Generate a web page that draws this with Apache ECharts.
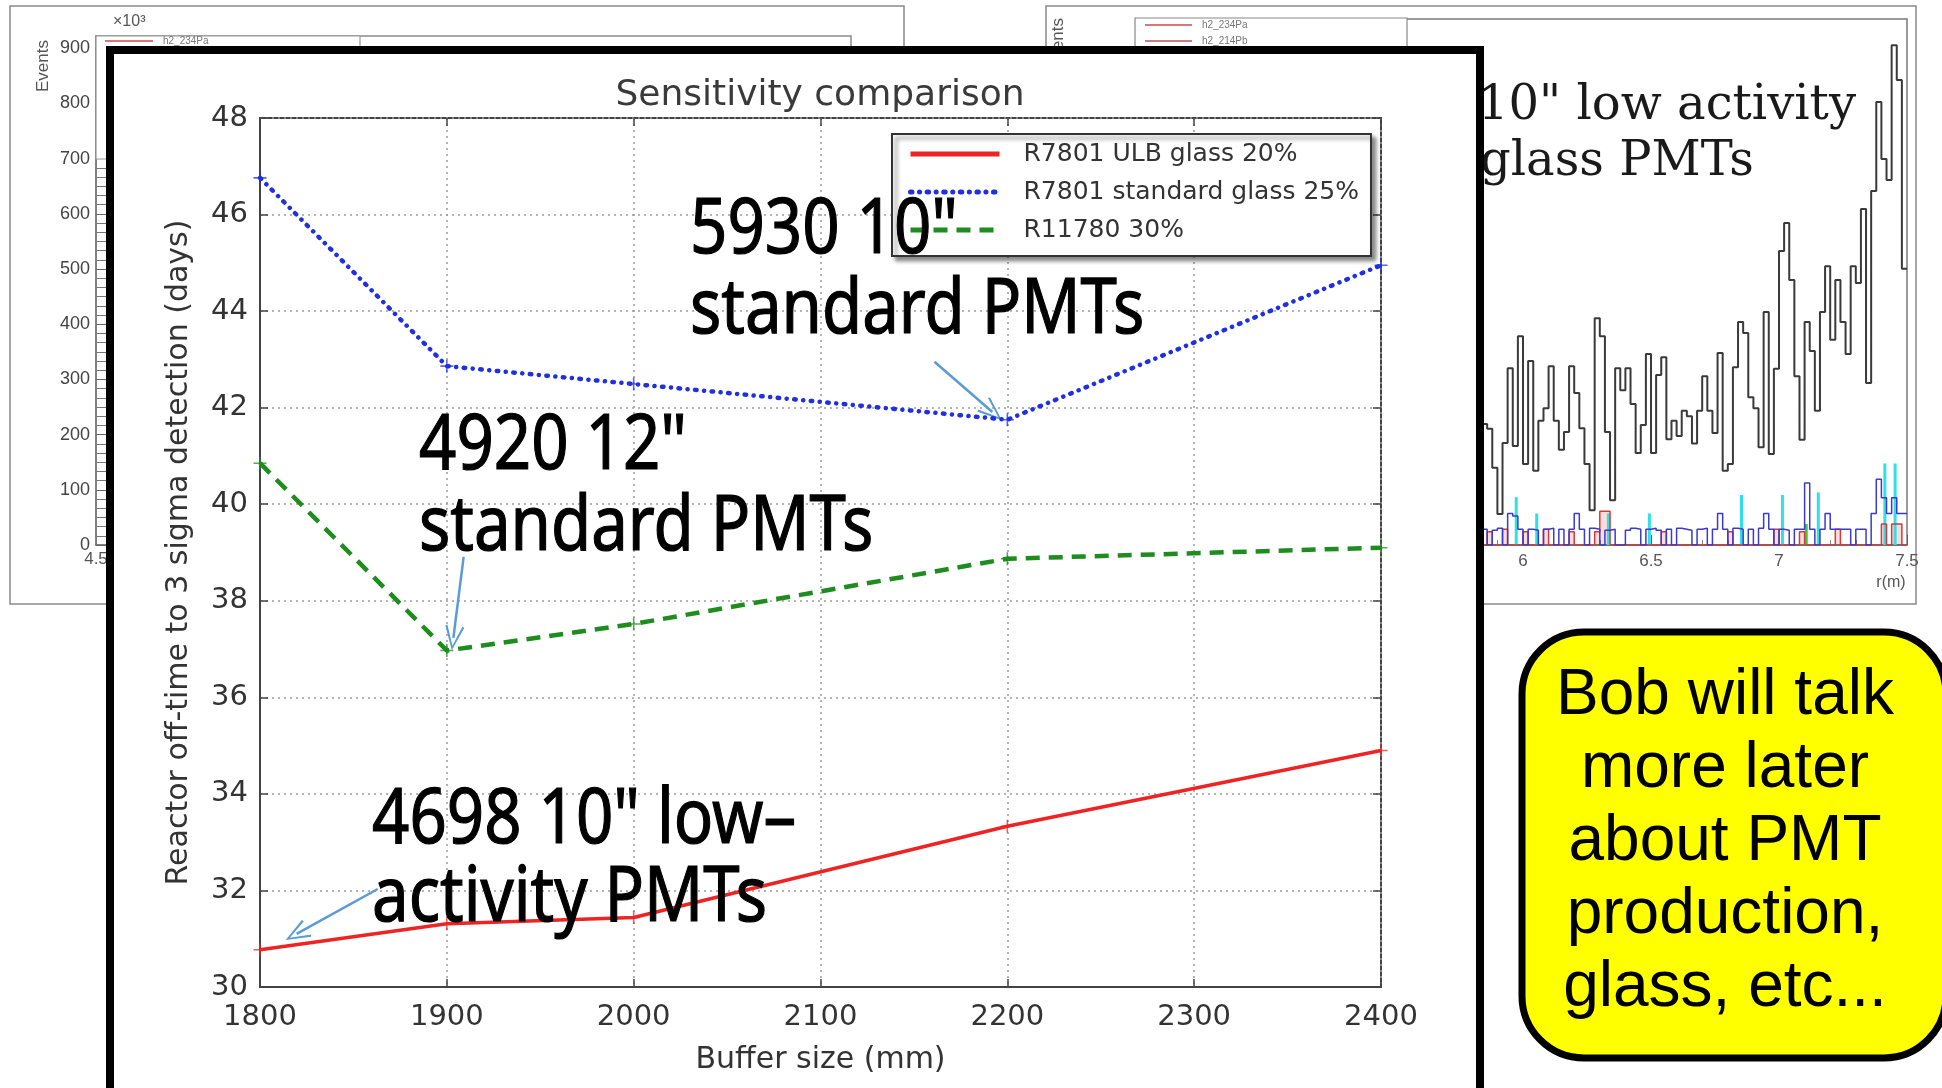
<!DOCTYPE html>
<html>
<head>
<meta charset="utf-8">
<script src="https://cdn.jsdelivr.net/npm/echarts@6/dist/echarts.min.js"></script>
<style>
  html, body { margin: 0; padding: 0; background: #fff; overflow: hidden; }
  #chart { width: 1942px; height: 1088px; }
</style>
</head>
<body>
<div id="chart"></div>
<script>
// ---- Sensitivity comparison: buffer size scan ----
const bufferSizes = [1800, 1900, 2000, 2200, 2400];            // mm
const ulbGlass20 = [30.77, 31.31, 31.44, 33.33, 34.90];       // days
const standardGlass25 = [46.76, 42.86, 42.49, 41.75, 44.95];  // days
const r11780Glass30 = [40.85, 36.97, 37.52, 38.87, 39.10];    // days
const seriesNames = ['R7801 ULB glass 20%', 'R7801 standard glass 25%', 'R11780 30%'];
const seriesColors = ['#ee2424', '#2030e0', '#1e8c1e'];

// Callout arrows (buffer size, days): tail -> head
const arrowTails = [[2161, 42.95], [1909, 38.91], [1863, 32.03]];
const arrowHeads = [[2192, 41.91], [1903.5, 37.23], [1819.6, 31.10]];

// ---- Radial event histogram (background panel), r in metres ----
const radialBinStart = 5.84;
const radialBinWidth = 0.02;
const eventsAll = [
  230, 221, 147, 59, 194, 336, 188, 397, 154, 350,
  141, 236, 260, 340, 236, 181, 215, 340, 289, 222,
  154, 66, 431, 397, 215, 85, 336, 294, 336, 268,
  175, 228, 363, 175, 323, 357, 201, 236, 207, 255,
  245, 193, 255, 321, 255, 213, 365, 141, 154, 338,
  424, 403, 281, 260, 186, 443, 173, 335, 559, 612,
  504, 321, 200, 424, 369, 255, 443, 530, 390, 504,
  424, 363, 530, 498, 639, 308, 673, 842, 734, 694,
  950, 884, 525
];
const eventsBlue = [
  30, 0, 28, 32, 0, 60, 55, 30, 0, 30,
  28, 0, 30, 32, 0, 30, 0, 30, 60, 30,
  0, 32, 30, 0, 28, 30, 0, 0, 28, 32,
  30, 0, 30, 32, 28, 0, 30, 0, 32, 30,
  28, 0, 30, 32, 0, 30, 60, 30, 0, 32,
  30, 0, 30, 0, 32, 60, 30, 0, 30, 28,
  0, 30, 30, 118, 30, 0, 30, 60, 30, 30,
  30, 30, 0, 30, 30, 0, 60, 125, 90, 60,
  90, 60, 60
];
const eventsRed = [
  0, 25, 0, 0, 30, 0, 0, 0, 25, 0,
  0, 0, 30, 0, 0, 0, 0, 25, 0, 0,
  0, 0, 25, 64, 64, 0, 0, 0, 0, 0,
  0, 0, 0, 0, 0, 25, 0, 0, 0, 0,
  0, 0, 0, 0, 0, 0, 0, 0, 25, 0,
  0, 0, 0, 0, 0, 0, 0, 30, 0, 0,
  0, 0, 25, 0, 0, 0, 0, 0, 0, 30,
  0, 0, 0, 0, 0, 0, 0, 0, 40, 0,
  40, 40, 0
];
const cyanR = [5.98, 6.06, 6.34, 6.50, 6.86, 7.02, 7.16, 7.42, 7.46];
const cyanEvents = [91, 60, 60, 60, 95, 95, 100, 155, 155];
const greenR = [7.10];
const greenEvents = [40];

// ---- Panel fonts ----
const MPL_FONT = '"DejaVu Sans", "Liberation Sans", sans-serif';
const ROOT_FONT = '"Liberation Sans", Arial, sans-serif';
const NOTE_FONT = '"Noto Sans", "Open Sans", sans-serif';
const SERIF_FONT = '"DejaVu Serif", "Liberation Serif", serif';

// Histogram as a step line: one point per bin start plus the closing edge
function stepData(values) {
  const pts = values.map((v, i) => [+(radialBinStart + i * radialBinWidth).toFixed(2), v]);
  pts.push([+(radialBinStart + values.length * radialBinWidth).toFixed(2), values[values.length - 1]]);
  return pts;
}
function pairs(xs, ys) { return xs.map((x, i) => [x, ys[i]]); }

const chevron = 'path://M0,20 L8,0 L16,20 L14.4,21 L8,4 L1.6,21 Z';
const plusMark = 'path://M4.4,0 H5.6 V4.4 H10 V5.6 H5.6 V10 H4.4 V5.6 H0 V4.4 H4.4 Z';

const mainValues = [ulbGlass20, standardGlass25, r11780Glass30];
const lineStyles = [
  { color: seriesColors[0], width: 3.5, type: 'solid' },
  { color: seriesColors[1], width: 4.5, type: [1.5, 7.5, 0.1, 7.5], cap: 'round' },
  { color: seriesColors[2], width: 4.5, type: [14, 9] }
];

const chart = echarts.init(document.getElementById('chart'), null, { renderer: 'canvas' });

const mainSeries = mainValues.map((vals, k) => ({
  name: seriesNames[k],
  type: 'line',
  xAxisIndex: 0, yAxisIndex: 0,
  data: pairs(bufferSizes, vals),
  symbol: 'none',
  color: seriesColors[k],
  lineStyle: lineStyles[k],
  z: 5,
  silent: true
}));

const markerSeries = mainValues.map((vals, k) => ({
  name: 'points-' + k,
  type: 'scatter',
  xAxisIndex: 0, yAxisIndex: 0,
  data: pairs(bufferSizes, vals),
  symbol: plusMark,
  symbolSize: 13,
  itemStyle: { color: seriesColors[k], opacity: 0.75 },
  z: 5,
  silent: true
}));

const arrowSeries = {
  name: 'callouts',
  type: 'scatter',
  xAxisIndex: 0, yAxisIndex: 0,
  data: [],
  z: 6,
  silent: true,
  markLine: {
    silent: true,
    symbol: ['none', chevron],
    symbolSize: [19, 25],
    label: { show: false },
    lineStyle: { color: '#5b9bd5', width: 2.5, type: 'solid' },
    emphasis: { disabled: true },
    data: arrowTails.map((t, i) => [{ coord: t }, { coord: arrowHeads[i] }])
  }
};

const histSeries = [
  { name: 'h-red', type: 'line', step: 'end', data: stepData(eventsRed), color: '#d43a3a',
    lineStyle: { width: 1.5, color: '#d43a3a' }, areaStyle: { color: 'rgba(220,60,60,0.25)' } },
  { name: 'h-blue', type: 'line', step: 'end', data: stepData(eventsBlue), color: '#3a3acc',
    lineStyle: { width: 1.5, color: '#3a3acc' } },
  { name: 'h-cyan', type: 'bar', data: pairs(cyanR, cyanEvents), barWidth: 3, color: '#30e0e8',
    itemStyle: { color: '#30e0e8' } },
  { name: 'h-green', type: 'bar', data: pairs(greenR, greenEvents), barWidth: 3, color: '#3ccc3c',
    itemStyle: { color: '#3ccc3c' } },
  { name: 'h-all', type: 'line', step: 'end', data: stepData(eventsAll), color: '#3a3a3a',
    lineStyle: { width: 2, color: '#3a3a3a' } }
].map(s => Object.assign({ xAxisIndex: 3, yAxisIndex: 3, symbol: 'none', z: 1, silent: true }, s));

const mainTextStyle = { fontFamily: MPL_FONT, color: '#333' };
const plainNumber = v => String(v);

function label(text, x, y, font, size, fill, align, extra) {
  return Object.assign({
    type: 'text', z: 2, x: x, y: y,
    style: { text: text, fontFamily: font, fontSize: size, fill: fill,
             align: align, verticalAlign: 'middle', textAlign: align, textVerticalAlign: 'middle' }
  }, extra || {});
}
function note(text, x, y) {
  return {
    type: 'text', z: 8, x: x, y: y, scaleX: 0.86,
    style: { text: text, fontFamily: NOTE_FONT, fontSize: 76, fill: '#000', stroke: '#000', lineWidth: 1.2,
             align: 'left', verticalAlign: 'middle', textAlign: 'left', textVerticalAlign: 'middle' }
  };
}

const option = {
  animation: false,
  backgroundColor: '#ffffff',
  title: {
    text: 'Sensitivity comparison',
    left: 820, top: 78, textAlign: 'center', padding: 0, z: 6,
    textStyle: { fontFamily: MPL_FONT, fontSize: 36, fontWeight: 'normal', color: '#3a3a3a' }
  },
  legend: {
    data: seriesNames,
    orient: 'vertical',
    left: 892, top: 134,
    itemWidth: 89, itemHeight: 14, itemGap: 12,
    padding: [7, 12, 13, 16],
    backgroundColor: '#ffffff',
    borderColor: '#333', borderWidth: 2, borderRadius: 0,
    shadowColor: 'rgba(0,0,0,0.45)', shadowBlur: 4, shadowOffsetX: 4, shadowOffsetY: 4,
    selectedMode: false,
    itemStyle: { color: 'rgba(0,0,0,0)', borderColor: 'rgba(0,0,0,0)', borderWidth: 0, opacity: 0 },
    lineStyle: { width: 5 },
    textStyle: { fontFamily: MPL_FONT, fontSize: 25, color: '#333', lineHeight: 26, padding: [0, 0, 0, 19] },
    z: 7
  },
  grid: [
    { left: 260, top: 118, width: 1121, height: 869, show: true, backgroundColor: 'transparent',
      borderColor: '#444', borderWidth: 2, z: 4, containLabel: false, outerBoundsMode: 'none' },
    { left: 96, top: 36, width: 755, height: 509, show: true, backgroundColor: 'transparent',
      borderColor: '#8a8a8a', borderWidth: 1.5, z: 1, containLabel: false, outerBoundsMode: 'none' },
    { left: 1139, top: 19, width: 768, height: 526, show: true, backgroundColor: 'transparent',
      borderColor: '#7a7a7a', borderWidth: 1.5, z: 1, containLabel: false, outerBoundsMode: 'none' }
  ],
  xAxis: [
    { gridIndex: 0, type: 'value', min: 1800, max: 2400, interval: 100, position: 'bottom', z: 4,
      axisLine: { show: true, onZero: false, lineStyle: { color: '#444', width: 2 } },
      axisTick: { show: true, inside: true, length: 8, lineStyle: { color: '#444', width: 1.5 } },
      axisLabel: Object.assign({ fontSize: 29, margin: 16, formatter: plainNumber }, mainTextStyle),
      splitLine: { show: true, lineStyle: { color: '#9c9c9c', width: 1.5, type: [2, 4] } },
      name: 'Buffer size (mm)', nameLocation: 'middle', nameGap: 58,
      nameTextStyle: Object.assign({ fontSize: 30 }, mainTextStyle) },
    { gridIndex: 0, type: 'value', min: 1800, max: 2400, interval: 100, position: 'top', z: 4,
      axisLine: { show: false },
      axisTick: { show: true, inside: true, length: 8, lineStyle: { color: '#444', width: 1.5 } },
      axisLabel: { show: false }, splitLine: { show: false } },
    { gridIndex: 1, type: 'value', min: 4.5, max: 7.5, interval: 0.5, position: 'bottom', z: 1,
      axisLine: { show: true, onZero: false, lineStyle: { color: '#777', width: 1.5 } },
      axisTick: { show: true, inside: true, length: 10, lineStyle: { color: '#777' } },
      axisLabel: { fontFamily: ROOT_FONT, fontSize: 17, color: '#555', margin: 6 },
      splitLine: { show: false } },
    { gridIndex: 2, type: 'value', min: 4.5, max: 7.5, interval: 0.5, position: 'bottom', z: 1,
      axisLine: { show: true, onZero: false, lineStyle: { color: '#666', width: 1.5 } },
      axisTick: { show: true, inside: true, length: 10, lineStyle: { color: '#666' } },
      minorTick: { show: true, splitNumber: 5, length: 5, lineStyle: { color: '#888' } },
      axisLabel: { fontFamily: ROOT_FONT, fontSize: 17, color: '#555', margin: 8 },
      splitLine: { show: false } }
  ],
  yAxis: [
    { gridIndex: 0, type: 'value', min: 30, max: 48, interval: 2, position: 'left', z: 4,
      axisLine: { show: true, onZero: false, lineStyle: { color: '#444', width: 2 } },
      axisTick: { show: true, inside: true, length: 8, lineStyle: { color: '#444', width: 1.5 } },
      axisLabel: Object.assign({ fontSize: 29, margin: 12 }, mainTextStyle),
      splitLine: { show: true, lineStyle: { color: '#9c9c9c', width: 1.5, type: [2, 4] } },
      name: 'Reactor off-time to 3 sigma detection (days)', nameLocation: 'middle', nameGap: 66,
      nameTextStyle: Object.assign({ fontSize: 30 }, mainTextStyle) },
    { gridIndex: 0, type: 'value', min: 30, max: 48, interval: 2, position: 'right', z: 4,
      axisLine: { show: false },
      axisTick: { show: true, inside: true, length: 8, lineStyle: { color: '#444', width: 1.5 } },
      axisLabel: { show: false }, splitLine: { show: false } },
    { gridIndex: 1, type: 'value', min: 0, max: 922, interval: 100, position: 'left', z: 1,
      axisLine: { show: true, onZero: false, lineStyle: { color: '#777', width: 1.5 } },
      axisTick: { show: true, inside: true, length: 14, lineStyle: { color: '#666' } },
      minorTick: { show: true, splitNumber: 6, length: 12, lineStyle: { color: '#777' } },
      axisLabel: { fontFamily: ROOT_FONT, fontSize: 18, color: '#444', margin: 6, showMaxLabel: false },
      splitLine: { show: false } },
    { gridIndex: 2, type: 'value', min: 0, max: 1000, show: false }
  ],
  graphic: [
    // background panel frames
    { type: 'rect', z: 0, shape: { x: 10, y: 6, width: 894, height: 598 },
      style: { fill: '#fff', stroke: '#8a8a8a', lineWidth: 1.5 } },
    { type: 'rect', z: 0, shape: { x: 1046, y: 6, width: 870, height: 598 },
      style: { fill: '#fff', stroke: '#8a8a8a', lineWidth: 1.5 } },
    // left panel legend box and labels
    { type: 'rect', z: 2, shape: { x: 96, y: 36, width: 264, height: 123 },
      style: { fill: '#fff', stroke: '#999', lineWidth: 1.2 } },
    { type: 'line', z: 2, shape: { x1: 105, y1: 41, x2: 153, y2: 41 }, style: { stroke: '#d04848', lineWidth: 1.5 } },
    label('h2_234Pa', 163, 41, ROOT_FONT, 10, '#777', 'left'),
    label('Events', 43, 66, ROOT_FONT, 17, '#555', 'center', { rotation: Math.PI / 2 }),
    label('×10³', 113, 22, ROOT_FONT, 16, '#555', 'left'),
    // right panel legend box and labels
    { type: 'rect', z: 2, shape: { x: 1135, y: 18, width: 272, height: 120 },
      style: { fill: '#fff', stroke: '#888', lineWidth: 1.2 } },
    { type: 'line', z: 2, shape: { x1: 1145, y1: 25, x2: 1192, y2: 25 }, style: { stroke: '#d04848', lineWidth: 1.5 } },
    { type: 'line', z: 2, shape: { x1: 1145, y1: 41, x2: 1192, y2: 41 }, style: { stroke: '#c05050', lineWidth: 1.5 } },
    label('h2_234Pa', 1202, 25, ROOT_FONT, 10, '#777', 'left'),
    label('h2_214Pb', 1202, 41, ROOT_FONT, 10, '#777', 'left'),
    label('Events', 1058, 18, ROOT_FONT, 17, '#555', 'right', { rotation: Math.PI / 2 }),
    label('r(m)', 1891, 583, ROOT_FONT, 16, '#555', 'center'),
    label('10" low activity', 1478, 107, SERIF_FONT, 48, '#1a1a1a', 'left'),
    label('glass PMTs', 1480, 163, SERIF_FONT, 48, '#1a1a1a', 'left'),
    // yellow callout box
    { type: 'rect', z: 2, shape: { x: 1522, y: 632, width: 424, height: 426, r: 62 },
      style: { fill: '#ffff00', stroke: '#000', lineWidth: 7 } },
    { type: 'text', z: 2, x: 1725, y: 842,
      style: { text: 'Bob will talk\nmore later\nabout PMT\nproduction,\nglass, etc...', fontFamily: ROOT_FONT, fontSize: 64, lineHeight: 73,
               fill: '#000', align: 'center', verticalAlign: 'middle', textAlign: 'center', textVerticalAlign: 'middle' } },
    // sheet holding the sensitivity plot
    { type: 'rect', z: 3, shape: { x: 110, y: 50, width: 1370, height: 1100 },
      style: { fill: '#fff', stroke: '#000', lineWidth: 8 } },
    // large annotations on the plot
    note('5930 10"', 690, 231),
    note('standard PMTs', 690, 311),
    note('4920 12"', 419, 447),
    note('standard PMTs', 419, 528),
    note('4698 10" low\u2013', 372, 821),
    note('activity PMTs', 372, 899)
  ],
  series: [].concat(histSeries, mainSeries, markerSeries, [arrowSeries])
};

chart.setOption(option);
</script>
</body>
</html>
